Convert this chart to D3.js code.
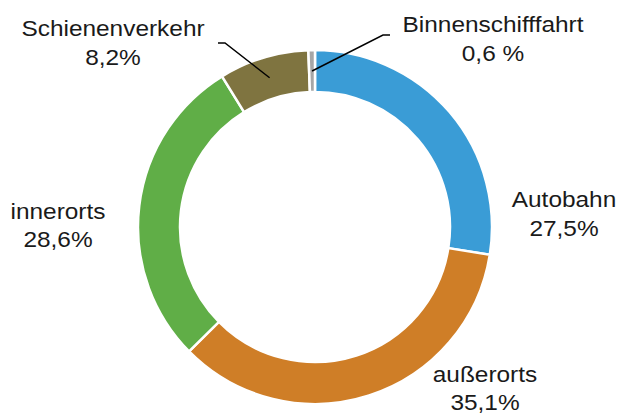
<!DOCTYPE html>
<html>
<head>
<meta charset="utf-8">
<script src="https://cdn.jsdelivr.net/npm/d3@7"></script>
<style>
  body { margin: 0; background: #fff; }
  svg { display: block; }
  text { font-family: "Liberation Sans", Arial, sans-serif; fill: #1a1a1a; }
</style>
</head>
<body>
<svg id="chart" width="620" height="415"></svg>
<script>
// data
const categories = ["Autobahn", "außerorts", "innerorts", "Schienenverkehr", "Binnenschifffahrt"];
const values = [27.5, 35.1, 28.6, 8.2, 0.6];
const pctLabels = ["27,5%", "35,1%", "28,6%", "8,2%", "0,6 %"];
const colors = ["#3a9cd6", "#cf7e27", "#60ae47", "#7f7440", "#a6a6a6"];

// label layout (offset from centre, first baseline) and leader elbows
const labelPos = [
    { dx: 249, dy: -20 },
    { dx: 170, dy: 155 },
    { dx: -257, dy: -8 },
    { dx: -202, dy: -191 },
    { dx: 178, dy: -195 }
];
const leaders = {
    3: [[-90, -184], [-97, -184]],
    4: [[68, -192], [75, -192]]
};

const svg = d3.select("#chart");
const cx = 315, cy = 227;
const outerR = 177, innerR = 135;
const lineGap = 28.5;

const g = svg.append("g").attr("transform", `translate(${cx},${cy})`);

const color = d3.scaleOrdinal().domain(categories).range(colors);

const pie = d3.pie().sort(null).value(d => d.value);
const arc = d3.arc().innerRadius(innerR).outerRadius(outerR);
const midArc = d3.arc().innerRadius((innerR + outerR) / 2).outerRadius((innerR + outerR) / 2);

const data = categories.map((c, i) => ({ name: c, value: values[i], pct: pctLabels[i], i: i }));
const arcs = pie(data);

g.selectAll("path.slice")
    .data(arcs)
    .enter()
    .append("path")
    .attr("class", "slice")
    .attr("d", arc)
    .attr("fill", d => color(d.data.name))
    .attr("stroke", "#fff")
    .attr("stroke-width", 2.5);

// leader lines
arcs.forEach(d => {
    const pts = leaders[d.data.i];
    if (!pts) return;
    const c = midArc.centroid(d);
    g.append("path")
        .attr("d", d3.line()([c, ...pts]))
        .attr("fill", "none")
        .attr("stroke", "#000")
        .attr("stroke-width", 1.5);
});

// labels (slightly widened like the original)
const lbl = g.selectAll("text.lbl")
    .data(arcs)
    .enter()
    .append("text")
    .attr("class", "lbl")
    .attr("text-anchor", "middle")
    .attr("transform", d => `translate(${labelPos[d.data.i].dx},0) scale(1.11,1)`)
    .style("font-size", "22px");

lbl.append("tspan")
    .attr("x", 0)
    .attr("y", d => labelPos[d.data.i].dy)
    .text(d => d.data.name);

lbl.append("tspan")
    .attr("x", 0)
    .attr("y", d => labelPos[d.data.i].dy + lineGap)
    .text(d => d.data.pct);
</script>
</body>
</html>
